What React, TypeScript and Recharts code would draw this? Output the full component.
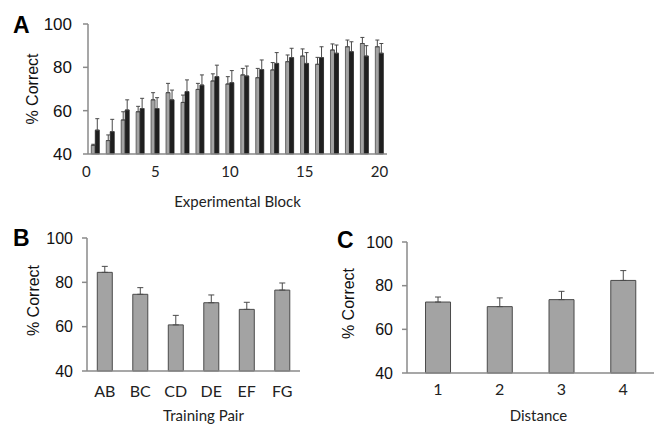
import React from "react";
import { BarChart, Bar, XAxis, YAxis, ErrorBar } from "recharts";

// Panel A: % correct per experimental block, two groups
const blocks = [1, 2, 3, 4, 5, 6, 7, 8, 9, 10, 11, 12, 13, 14, 15, 16, 17, 18, 19, 20];
const greyValues = [44, 46.2, 55.7, 59.5, 65, 68.3, 63.8, 69.8, 73.7, 72.3, 76.5, 75.2, 78.8, 82.6, 85.2, 81.4, 88, 89.5, 91, 89.5];
const greyErrors = [0.5, 2.6, 3.8, 2.5, 3.3, 4.3, 3.4, 2.8, 3.3, 3.4, 3, 4.3, 3.4, 3.1, 3.3, 3.2, 2.8, 3.1, 2.8, 3.1];
const blackValues = [51, 50.3, 60.3, 61, 61, 65, 68.8, 71.8, 75.7, 72.9, 76, 79, 81.8, 84.5, 81.8, 84.5, 86.5, 87.2, 85.2, 86.5];
const blackErrors = [5.3, 5.7, 4.7, 4.7, 5, 4.5, 5.4, 4.7, 5.3, 5.6, 4.6, 4.4, 5, 4.3, 5, 5, 3.8, 4.6, 4.8, 4.5];
const blockTicks = [5, 10, 15, 20];

// Panel B: % correct per training pair
const pairs = ["AB", "BC", "CD", "DE", "EF", "FG"];
const pairValues = [84.5, 74.6, 60.8, 70.8, 67.8, 76.5];
const pairErrors = [2.7, 3, 4.3, 3.5, 3.2, 3.2];

// Panel C: % correct per distance
const distances = ["1", "2", "3", "4"];
const distanceValues = [72.5, 70.4, 73.6, 82.4];
const distanceErrors = [2.3, 4, 3.8, 4.5];

const yTicks = [40, 60, 80, 100];

const dataA = blocks.map((b, i) => ({
  block: b,
  grey: greyValues[i],
  greyErr: [0, greyErrors[i]],
  black: blackValues[i],
  blackErr: [0, blackErrors[i]],
}));
const dataB = pairs.map((p, i) => ({ name: p, value: pairValues[i], err: [0, pairErrors[i]] }));
const dataC = distances.map((d, i) => ({ name: d, value: distanceValues[i], err: [0, distanceErrors[i]] }));

const AXIS = "#8a8a8a";
const GREY = "#a3a3a3";
const DARK = "#1f1f1f";
const OUTLINE = "#4a4a4a";
const SANS = "'Liberation Sans', Arial, sans-serif";
const HUMANIST = "Lato, 'Open Sans', sans-serif";

function BlockTick(props: any) {
  const { x, y, payload } = props;
  const v = payload.value;
  let label = "";
  let px = x;
  if (v === 1) {
    label = "0";
    px = x - 9;
  } else if (blockTicks.includes(v)) {
    label = String(v);
  }
  if (!label) return <g />;
  return (
    <text x={px} y={y} dy="0.71em" textAnchor="middle" fontFamily={HUMANIST} fontSize={15} fill="#222">
      {label}
    </text>
  );
}

const yTickStyle = (size: number) => ({ fontFamily: SANS, fontSize: size, fill: "#111" });

export default function App() {
  return (
    <div style={{ position: "fixed", left: 0, top: 0, width: 654, height: 426, background: "#fff" }}>
      <div style={{ position: "absolute", left: 0, top: 0 }}>
        <BarChart
          width={400}
          height={215}
          data={dataA}
          margin={{ top: 24, right: 13, bottom: 0, left: 28 }}
          barCategoryGap="22%"
          barGap={0}
        >
          <XAxis
            dataKey="block"
            interval={0}
            tickLine={false}
            tickSize={0}
            tickMargin={12}
            height={61}
            axisLine={{ stroke: AXIS, strokeWidth: 1.5 }}
            tick={<BlockTick />}
            label={{ value: "Experimental Block", position: "center", dy: 17, fontFamily: HUMANIST, fontSize: 15, fill: "#222" }}
          />
          <YAxis
            domain={[40, 100]}
            ticks={yTicks}
            width={60}
            tickSize={5}
            tickMargin={11}
            axisLine={{ stroke: AXIS, strokeWidth: 1.5 }}
            tickLine={{ stroke: AXIS, strokeWidth: 1.5 }}
            tick={yTickStyle(17)}
            label={{ value: "% Correct", angle: -90, position: "center", dx: -26, fontFamily: SANS, fontSize: 16, fill: "#111" }}
          />
          <Bar dataKey="grey" fill={GREY} stroke={OUTLINE} strokeWidth={0.8} isAnimationActive={false}>
            <ErrorBar dataKey="greyErr" width={2} stroke={OUTLINE} strokeWidth={1} direction="y" />
          </Bar>
          <Bar dataKey="black" fill={DARK} stroke={DARK} strokeWidth={0.8} isAnimationActive={false}>
            <ErrorBar dataKey="blackErr" width={2} stroke={OUTLINE} strokeWidth={1} direction="y" />
          </Bar>
        </BarChart>
      </div>

      <div style={{ position: "absolute", left: 0, top: 200 }}>
        <BarChart
          width={310}
          height={226}
          data={dataB}
          margin={{ top: 38, right: 10, bottom: 0, left: 27 }}
          barCategoryGap="29%"
        >
          <XAxis
            dataKey="name"
            interval={0}
            tickLine={false}
            tickSize={0}
            tickMargin={15}
            height={55}
            axisLine={{ stroke: AXIS, strokeWidth: 1.5 }}
            tick={{ fontFamily: HUMANIST, fontSize: 16, fill: "#222" }}
            label={{ value: "Training Pair", position: "center", dx: 10, dy: 17, fontFamily: HUMANIST, fontSize: 15, fill: "#222" }}
          />
          <YAxis
            domain={[40, 100]}
            ticks={yTicks}
            width={60}
            tickSize={5}
            tickMargin={9}
            axisLine={{ stroke: AXIS, strokeWidth: 1.5 }}
            tickLine={{ stroke: AXIS, strokeWidth: 1.5 }}
            tick={yTickStyle(16)}
            label={{ value: "% Correct", angle: -90, position: "center", dx: -24, dy: -4, fontFamily: SANS, fontSize: 16, fill: "#111" }}
          />
          <Bar dataKey="value" fill={GREY} stroke={OUTLINE} strokeWidth={1} isAnimationActive={false}>
            <ErrorBar dataKey="err" width={3} stroke={OUTLINE} strokeWidth={1} direction="y" />
          </Bar>
        </BarChart>
      </div>

      <div style={{ position: "absolute", left: 320, top: 200 }}>
        <BarChart
          width={334}
          height={226}
          data={dataC}
          margin={{ top: 42, right: 0, bottom: 0, left: 27 }}
          barCategoryGap="30%"
        >
          <XAxis
            dataKey="name"
            interval={0}
            tickLine={false}
            tickSize={0}
            tickMargin={11}
            height={53}
            axisLine={{ stroke: AXIS, strokeWidth: 1.5 }}
            tick={{ fontFamily: HUMANIST, fontSize: 16, fill: "#222" }}
            label={{ value: "Distance", position: "center", dx: 8, dy: 16, fontFamily: HUMANIST, fontSize: 15, fill: "#222" }}
          />
          <YAxis
            domain={[40, 100]}
            ticks={yTicks}
            width={60}
            tickSize={5}
            tickMargin={9}
            axisLine={{ stroke: AXIS, strokeWidth: 1.5 }}
            tickLine={{ stroke: AXIS, strokeWidth: 1.5 }}
            tick={yTickStyle(16)}
            label={{ value: "% Correct", angle: -90, position: "center", dx: -29, dy: -4, fontFamily: SANS, fontSize: 16, fill: "#111" }}
          />
          <Bar dataKey="value" fill={GREY} stroke={OUTLINE} strokeWidth={1} isAnimationActive={false}>
            <ErrorBar dataKey="err" width={3} stroke={OUTLINE} strokeWidth={1} direction="y" />
          </Bar>
        </BarChart>
      </div>

      <svg width={654} height={426} style={{ position: "absolute", left: 0, top: 0, pointerEvents: "none" }}>
        <g fontFamily={SANS} fontWeight="bold" fontSize={23} fill="#000">
          <text x={13} y={33}>A</text>
          <text x={13} y={246}>B</text>
          <text x={337} y={248}>C</text>
        </g>
      </svg>
    </div>
  );
}
